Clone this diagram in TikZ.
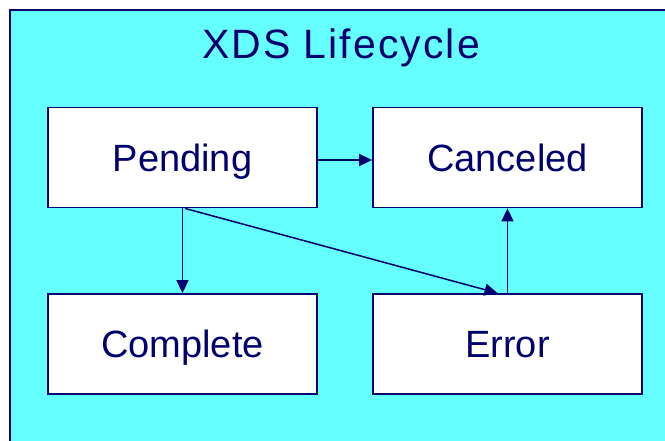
\documentclass[tikz,border=0pt]{standalone}
\usepackage{fontspec}
\setmainfont{Liberation Sans}
\newfontfamily\titlefont[LetterSpace=5]{Liberation Sans}
\usetikzlibrary{arrows.meta}
\definecolor{bgcyan}{RGB}{102,255,255}
\definecolor{navyline}{RGB}{0,0,110}
\tikzset{
  statebox/.style={draw=navyline, line width=1.8pt, fill=white, minimum width=269pt, minimum height=100pt,
    inner sep=0pt, text=navyline, font=\fontsize{38}{40}\selectfont, text height=27pt, text depth=0pt},
  flow/.style={draw=navyline, line width=1.5pt, -{Triangle[length=13pt,width=12pt]}},
}
\begin{document}
\begin{tikzpicture}[x=1pt,y=-1pt]
\useasboundingbox (0,0) rectangle (665,440);
\draw[draw=navyline, line width=2pt, fill=bgcyan] (9.5,9.5) rectangle (672,447);
\node[text=navyline, font=\titlefont\fontsize{41}{44}\selectfont, anchor=base] (title) at (341,58) {XDS Lifecycle};
\node[statebox] (pending) at (182.5,157.5) {Pending};
\node[statebox] (canceled) at (507.5,157.5) {Canceled};
\node[statebox] (complete) at (182.5,344) {Complete};
\node[statebox] (error) at (507.5,344) {Error};
\draw[flow] ([yshift=-2.5pt]pending.east) -- ([yshift=-2.5pt]canceled.west);
\draw[flow] (pending.south) -- (complete.north);
\draw[flow] ([xshift=2.5pt]pending.south) -- ([xshift=-10pt]error.north);
\draw[flow] (error.north) -- (canceled.south);
\end{tikzpicture}
\end{document}
